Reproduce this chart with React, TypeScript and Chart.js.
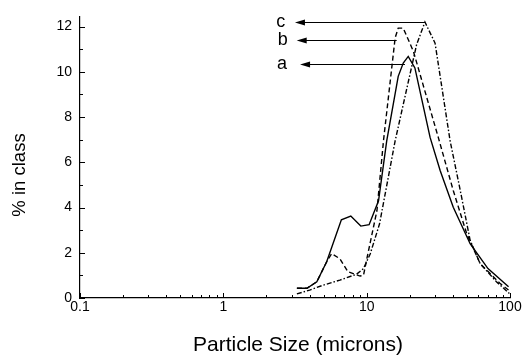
import React, { useEffect, useRef } from "react";
import { Chart, registerables } from "chart.js";

Chart.register(...registerables);

// Particle size (microns) and % in class for each sample
const sizeA = [3.26, 3.83, 4.49, 5.26, 6.66, 7.75, 9.1, 10.4, 12.1, 13.8, 16.6, 18.0, 19.5, 21.7, 27.7, 32.6, 40.2, 52.7, 70.2, 97.7];
const pctA = [0.43, 0.43, 0.72, 1.6, 3.46, 3.62, 3.18, 3.24, 4.3, 6.95, 9.8, 10.39, 10.68, 10.17, 7.1, 5.63, 4.01, 2.4, 1.3, 0.5];

const sizeB = [3.26, 3.83, 4.49, 5.26, 5.7, 6.5, 7.4, 9.0, 9.5, 10.2, 11.8, 13.1, 15.8, 16.6, 18.0, 21.2, 31.6, 40.2, 49.9, 61.9, 85, 97.7];
const pctB = [0.43, 0.43, 0.72, 1.6, 1.96, 1.74, 1.16, 0.97, 1.0, 1.96, 3.87, 6.95, 11.5, 11.93, 11.93, 10.9, 7.1, 4.75, 2.84, 1.52, 0.65, 0.35];

const sizeC = [3.26, 4.0, 4.98, 6.5, 8.5, 9.5, 10.6, 12.3, 15.8, 22.3, 25.5, 30.0, 38.2, 45, 52.7, 61.9, 80.4, 99];
const pctC = [0.18, 0.35, 0.57, 0.79, 1.05, 1.3, 1.96, 3.28, 6.95, 11.2, 12.2, 11.27, 6.95, 4.75, 2.55, 1.52, 0.72, 0.2];

// Peak annotations (label, arrow level, arrow start/end sizes, label size)
const annotLabels = ["a", "b", "c"];
const annotLevel = [10.36, 11.41, 12.19];
const arrowFrom = [18.5, 16.2, 25.5];
const arrowTo = [3.43, 3.25, 3.16];
const labelAt = [2.57, 2.6, 2.52];

const xTickLabels = [0.1, 1, 10, 100];
const yTickStep = 2;
const xTitle = "Particle Size (microns)";
const yTitle = "% in class";

const FONT = "'Liberation Sans', Arial, Helvetica, sans-serif";

const toPts = (xs: number[], ys: number[]) => xs.map((x, i) => ({ x, y: ys[i] }));

const decor = {
  id: "decor",
  afterDraw(chart: any) {
    const { ctx, chartArea } = chart;
    const x = chart.scales.x;
    const y = chart.scales.y;
    ctx.save();
    ctx.strokeStyle = "#000";
    ctx.fillStyle = "#000";
    ctx.lineWidth = 1;
    // inward x ticks
    for (const d of [0.1, 1, 10]) {
      for (let m = 1; m <= 9; m++) {
        const v = d * m;
        const px = Math.round(x.getPixelForValue(v)) + 0.5;
        const len = m === 1 ? 5 : 3;
        ctx.beginPath();
        ctx.moveTo(px, chartArea.bottom);
        ctx.lineTo(px, chartArea.bottom - len);
        ctx.stroke();
      }
    }
    {
      const px = Math.round(x.getPixelForValue(100)) + 0.5;
      ctx.beginPath();
      ctx.moveTo(px, chartArea.bottom);
      ctx.lineTo(px, chartArea.bottom - 5);
      ctx.stroke();
    }
    // inward y ticks
    for (let v = 0; v <= 12; v++) {
      const py = Math.round(y.getPixelForValue(v)) + 0.5;
      const len = v % 2 === 0 ? 5 : 3;
      ctx.beginPath();
      ctx.moveTo(chartArea.left, py);
      ctx.lineTo(chartArea.left + len, py);
      ctx.stroke();
    }
    // arrows and labels
    ctx.font = `18px ${FONT}`;
    ctx.textAlign = "center";
    ctx.textBaseline = "middle";
    for (let i = 0; i < annotLabels.length; i++) {
      const py = Math.round(y.getPixelForValue(annotLevel[i])) + 0.5;
      const x0 = x.getPixelForValue(arrowFrom[i]);
      const x1 = x.getPixelForValue(arrowTo[i]);
      ctx.lineWidth = 1.2;
      ctx.beginPath();
      ctx.moveTo(x0, py);
      ctx.lineTo(x1 + 8, py);
      ctx.stroke();
      ctx.beginPath();
      ctx.moveTo(x1, py);
      ctx.lineTo(x1 + 10, py - 3);
      ctx.lineTo(x1 + 10, py + 3);
      ctx.closePath();
      ctx.fill();
      ctx.fillText(annotLabels[i], x.getPixelForValue(labelAt[i]), py);
    }
    // titles
    ctx.font = `21px ${FONT}`;
    ctx.textAlign = "center";
    ctx.textBaseline = "middle";
    ctx.fillText(xTitle, 298, 345);
    ctx.save();
    ctx.translate(20, 175);
    ctx.rotate(-Math.PI / 2);
    ctx.font = `18.5px ${FONT}`;
    ctx.fillText(yTitle, 0, 0);
    ctx.restore();
    ctx.restore();
  },
};

export default function App() {
  const ref = useRef<HTMLCanvasElement>(null);
  useEffect(() => {
    if (!ref.current) return;
    const line = (data: any[], dash: number[]) => ({
      data,
      showLine: true,
      borderColor: "#000",
      backgroundColor: "#000",
      borderWidth: 1.4,
      borderDash: dash,
      pointRadius: 0,
      tension: 0,
      fill: false,
    });
    const chart = new Chart(ref.current, {
      type: "scatter",
      data: {
        datasets: [
          line(toPts(sizeA, pctA), []),
          line(toPts(sizeB, pctB), [5, 3]),
          line(toPts(sizeC, pctC), [5, 2, 1.5, 2]),
        ],
      },
      options: {
        responsive: false,
        animation: false,
        layout: { padding: { left: 0, right: 13, top: 15, bottom: 0 } },
        plugins: { legend: { display: false }, tooltip: { enabled: false } },
        scales: {
          x: {
            type: "logarithmic",
            min: 0.1,
            max: 100,
            grid: { display: false, drawTicks: false },
            border: { display: true, color: "#000", width: 1.2 },
            ticks: {
              autoSkip: false,
              maxRotation: 0,
              color: "#000",
              padding: 1,
              font: { size: 14, family: FONT },
              callback: (v: any) => {
                const n = Number(v);
                const hit = xTickLabels.find((t) => Math.abs(t - n) / t < 1e-6);
                return hit !== undefined ? String(hit) : "";
              },
            },
            afterFit: (s: any) => {
              s.height = 57;
            },
          },
          y: {
            type: "linear",
            min: 0,
            max: 12.45,
            grid: { display: false, drawTicks: false },
            border: { display: true, color: "#000", width: 1.2 },
            ticks: {
              stepSize: yTickStep,
              includeBounds: false,
              color: "#000",
              padding: 8,
              font: { size: 14, family: FONT },
            },
            afterFit: (s: any) => {
              s.width = 80;
            },
          },
        },
      },
      plugins: [decor],
    });
    return () => chart.destroy();
  }, []);
  return (
    <div style={{ position: "fixed", left: 0, top: 0, width: 523, height: 355, background: "#fff" }}>
      <canvas ref={ref} width={523} height={355} style={{ display: "block" }} />
    </div>
  );
}
